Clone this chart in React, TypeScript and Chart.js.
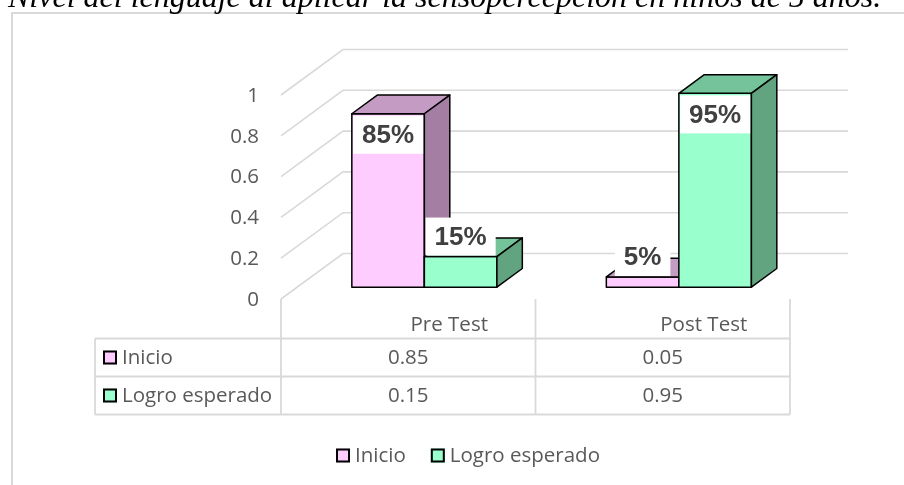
import React, { useEffect, useRef } from "react";
import { Chart, registerables } from "chart.js";

Chart.register(...registerables);

const TITLE = "Nivel del lenguaje al aplicar la sensopercepción en niños de 5 años.";
const CATEGORIES = ["Pre Test", "Post Test"];
const SERIES_NAMES = ["Inicio", "Logro esperado"];
const INICIO = [0.85, 0.05];
const LOGRO = [0.15, 0.95];
const Y_TICKS = [0, 0.2, 0.4, 0.6, 0.8, 1];
const TICK_LABELS = ["0", "0.2", "0.4", "0.6", "0.8", "1"];

const FRONT = ["#FFCCFF", "#99FFCC"];
const TOPC = ["#C39BC3", "#74C39B"];
const SIDE = ["#A47FA3", "#61A47F"];

const GRID = "#D9D9D9";
const TEXT = "#595959";
const FONT = '20.5px "Open Sans"';

const DEPTH_X = 62;
const DEPTH_Y = -45.5;
const BAR_FRONT = 0.26;
const BAR_BACK = 0.67;

const SERIES = [INICIO, LOGRO];

const excel3d = {
  id: "excel3d",
  beforeDatasetsDraw(chart: any) {
    const ctx = chart.ctx as CanvasRenderingContext2D;
    const a = chart.chartArea;
    const ys = chart.scales.y;
    ctx.save();
    // chart frame
    ctx.strokeStyle = GRID;
    ctx.lineWidth = 2;
    ctx.strokeRect(12, 13, 940, 520);
    // title
    ctx.fillStyle = "#000";
    ctx.font = 'italic 32px "Liberation Serif"';
    ctx.textAlign = "left";
    ctx.textBaseline = "alphabetic";
    ctx.fillText(TITLE, 8, 7);
    // walls / gridlines
    ctx.strokeStyle = GRID;
    ctx.lineWidth = 1.6;
    for (const v of Y_TICKS) {
      const y = ys.getPixelForValue(v);
      ctx.beginPath();
      ctx.moveTo(a.left, y);
      ctx.lineTo(a.left + DEPTH_X, y + DEPTH_Y);
      ctx.lineTo(a.right + DEPTH_X - 4, y + DEPTH_Y);
      ctx.stroke();
    }
    // tick labels
    ctx.fillStyle = TEXT;
    ctx.font = FONT;
    ctx.textAlign = "right";
    ctx.textBaseline = "middle";
    Y_TICKS.forEach((v, i) => {
      ctx.fillText(TICK_LABELS[i], a.left - 22, ys.getPixelForValue(v) + 1);
    });
    ctx.restore();
  },
  beforeDatasetDraw() {
    return false;
  },
  afterDatasetsDraw(chart: any) {
    const ctx = chart.ctx as CanvasRenderingContext2D;
    const a = chart.chartArea;
    const xs = chart.scales.x;
    const ys = chart.scales.y;
    const fdx = DEPTH_X * BAR_FRONT, fdy = DEPTH_Y * BAR_FRONT;
    const bdx = DEPTH_X * BAR_BACK, bdy = DEPTH_Y * BAR_BACK;
    ctx.save();
    ctx.lineJoin = "round";
    ctx.lineWidth = 1.5;
    ctx.strokeStyle = "#000";
    const labels: any[] = [];
    for (let c = 0; c < CATEGORIES.length; c++) {
      for (let s = 0; s < SERIES.length; s++) {
        const el: any = chart.getDatasetMeta(s).data[c];
        const L = el.x - el.width / 2, R = el.x + el.width / 2;
        const T = el.y, B = el.base;
        const poly = (pts: number[][], fill: string) => {
          ctx.beginPath();
          ctx.moveTo(pts[0][0], pts[0][1]);
          for (let k = 1; k < pts.length; k++) ctx.lineTo(pts[k][0], pts[k][1]);
          ctx.closePath();
          ctx.fillStyle = fill;
          ctx.fill();
          ctx.stroke();
        };
        poly([[L + fdx, T + fdy], [R + fdx, T + fdy], [R + fdx, B + fdy], [L + fdx, B + fdy]], FRONT[s]);
        poly([[L + fdx, T + fdy], [L + bdx, T + bdy], [R + bdx, T + bdy], [R + fdx, T + fdy]], TOPC[s]);
        poly([[R + fdx, T + fdy], [R + bdx, T + bdy], [R + bdx, B + bdy], [R + fdx, B + fdy]], SIDE[s]);
        const v = SERIES[s][c];
        labels.push({ text: Math.round(v * 100) + "%", x: el.x + fdx, y: v >= 0.5 ? T + fdy + 21 : T + fdy - 20 });
      }
    }
    // data labels
    ctx.font = 'bold 26px "Liberation Sans"';
    ctx.textAlign = "center";
    ctx.textBaseline = "middle";
    for (const lb of labels) {
      const w = ctx.measureText(lb.text).width + 18;
      const h = 38;
      ctx.fillStyle = "#FFFFFF";
      ctx.fillRect(lb.x - w / 2, lb.y - h / 2, w, h);
      ctx.fillStyle = "#404040";
      ctx.fillText(lb.text, lb.x, lb.y + 1);
    }

    // data table
    const zeroY = ys.getPixelForValue(0);
    const catW = (a.right - a.left) / CATEGORIES.length;
    const tableLeft = 95;
    const headerTop = zeroY + 1;
    const rowLines = [headerTop + 38.5, headerTop + 76.5, headerTop + 114.5];
    ctx.strokeStyle = GRID;
    ctx.lineWidth = 1.8;
    ctx.lineJoin = "miter";
    ctx.beginPath();
    for (let i = 0; i <= CATEGORIES.length; i++) {
      const x = a.left + i * catW;
      ctx.moveTo(x, zeroY);
      ctx.lineTo(x, rowLines[2]);
    }
    ctx.moveTo(tableLeft, rowLines[0]);
    ctx.lineTo(tableLeft, rowLines[2]);
    for (const y of rowLines) {
      ctx.moveTo(tableLeft, y);
      ctx.lineTo(a.right, y);
    }
    ctx.stroke();

    ctx.font = FONT;
    ctx.fillStyle = TEXT;
    ctx.textAlign = "center";
    ctx.textBaseline = "middle";
    CATEGORIES.forEach((cat, i) => {
      const cx = xs.getPixelForValue(i);
      ctx.fillText(cat, cx + 41, headerTop + 25);
      SERIES.forEach((ser, s) => {
        ctx.fillText(String(ser[i]), cx, (rowLines[s] + rowLines[s + 1]) / 2 + 1);
      });
    });
    const swatch = (x: number, cy: number, color: string) => {
      ctx.fillStyle = color;
      ctx.fillRect(x, cy - 7, 14, 14);
      ctx.strokeStyle = "#000";
      ctx.lineWidth = 2;
      ctx.strokeRect(x + 1, cy - 6, 12, 12);
    };
    SERIES_NAMES.forEach((name, s) => {
      const cy = (rowLines[s] + rowLines[s + 1]) / 2;
      swatch(103, cy, FRONT[s]);
      ctx.fillStyle = TEXT;
      ctx.textAlign = "left";
      ctx.fillText(name, 122, cy + 1);
    });

    // legend
    const ly = 455.5;
    const widths = SERIES_NAMES.map((n) => ctx.measureText(n).width);
    const total = widths.reduce((p, w) => p + 14 + 5 + w, 0) + 25 * (SERIES_NAMES.length - 1);
    let lx = 468 - total / 2;
    SERIES_NAMES.forEach((name, s) => {
      swatch(lx, ly, FRONT[s]);
      ctx.fillStyle = TEXT;
      ctx.textAlign = "left";
      ctx.fillText(name, lx + 19, ly + 1);
      lx += 14 + 5 + widths[s] + 25;
    });
    ctx.restore();
  },
};

export default function App() {
  const ref = useRef<HTMLCanvasElement | null>(null);
  useEffect(() => {
    if (!ref.current) return;
    const chart = new Chart(ref.current, {
      type: "bar",
      data: {
        labels: CATEGORIES,
        datasets: SERIES.map((ser, s) => ({
          label: SERIES_NAMES[s],
          data: ser,
          backgroundColor: FRONT[s],
          categoryPercentage: 0.57,
          barPercentage: 1,
        })),
      },
      options: {
        animation: false,
        responsive: false,
        devicePixelRatio: 1,
        events: [],
        layout: { padding: { left: 281, right: 114, top: 95, bottom: 186 } },
        scales: {
          x: { display: false, offset: true },
          y: { display: false, min: 0, max: 1 },
        },
        plugins: {
          legend: { display: false },
          tooltip: { enabled: false },
          title: { display: false },
        },
      },
      plugins: [excel3d],
    });
    return () => chart.destroy();
  }, []);
  return (
    <div style={{ position: "fixed", left: 0, top: 0, width: 904, height: 485, background: "#fff" }}>
      <canvas ref={ref} width={904} height={485} style={{ display: "block" }} />
    </div>
  );
}
